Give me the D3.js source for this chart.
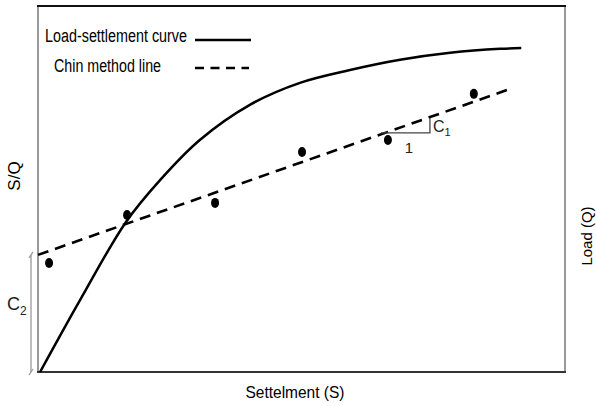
<!DOCTYPE html>
<html><head><meta charset="utf-8">
<script src="https://cdn.jsdelivr.net/npm/d3@7"></script>
<style>body{margin:0;background:#fff}svg{display:block;font-family:"Liberation Sans Narrow","Liberation Sans",Arial,sans-serif}</style>
</head><body><svg id="c" width="596" height="406"></svg>
<script>
// Load-settlement curve (x = settlement, y = load), arbitrary units 0-100
const curveX = [0.4, 8.0, 16.7, 23.2, 30.7, 40.2, 49.7, 59.2, 68.7, 78.2, 87.7, 91.7];
const curveY = [0, 19.7, 41.0, 52.5, 63.4, 73.0, 79.0, 82.5, 85.3, 87.2, 88.3, 88.5];
// S/Q data points
const pointX = [2.1, 16.9, 33.6, 50.1, 66.4, 82.7];
const pointY = [29.8, 42.9, 46.2, 60.1, 63.4, 76.0];
// Chin method line endpoints
const chinX = [0, 90.1];
const chinY = [32.0, 77.6];
const legendLabels = ["Load-settlement curve", "Chin method line"];

const svg = d3.select("#c");
const L = 38, R = 565, T = 6, B = 372;
const x = d3.scaleLinear().domain([0, 100]).range([L, R]);
const y = d3.scaleLinear().domain([0, 100]).range([B, T]);

// frame
svg.append("rect").attr("x", L).attr("y", T).attr("width", R - L).attr("height", B - T)
  .attr("fill", "none").attr("stroke", "#999").attr("stroke-width", 2);
svg.append("line").attr("x1", L - 1).attr("x2", R + 1).attr("y1", T).attr("y2", T).attr("stroke", "#111").attr("stroke-width", 2);
svg.append("line").attr("x1", L - 1).attr("x2", R + 1).attr("y1", B).attr("y2", B).attr("stroke", "#333").attr("stroke-width", 2);

// curve
const curveData = curveX.map((d, i) => [d, curveY[i]]);
svg.append("path").datum(curveData)
  .attr("d", d3.line().x(d => x(d[0])).y(d => y(d[1])).curve(d3.curveCatmullRom))
  .attr("fill", "none").attr("stroke", "#000").attr("stroke-width", 2.5);

// chin line
svg.append("line").attr("x1", x(chinX[0])).attr("y1", y(chinY[0])).attr("x2", x(chinX[1])).attr("y2", y(chinY[1]))
  .attr("stroke", "#000").attr("stroke-width", 2.6).attr("stroke-dasharray", "11,7");

// points
svg.selectAll("ellipse.pt").data(pointX.map((d, i) => [d, pointY[i]])).enter().append("ellipse")
  .attr("cx", d => x(d[0])).attr("cy", d => y(d[1])).attr("rx", 4).attr("ry", 5).attr("fill", "#000");

// slope triangle near 5th point
const tx0 = x(pointX[4]) - 7, tx1 = tx0 + 49;
const ty = y(pointY[4]) - 7;
svg.append("path").attr("d", `M${tx0},${ty}H${tx1}V${ty - 15}`).attr("fill", "none").attr("stroke", "#444").attr("stroke-width", 1.3);
svg.append("text").attr("x", tx0 + 28).attr("y", ty + 20).attr("font-size", 15).attr("fill", "#222").attr("text-anchor", "middle").text("1");
const c1 = svg.append("text").attr("x", tx1 + 3).attr("y", ty - 1).attr("font-size", 16).attr("fill", "#222");
c1.append("tspan").text("C");
c1.append("tspan").attr("font-size", 11).attr("dy", 4).text("1");

// C2 bracket
const bx = 31;
svg.append("line").attr("x1", bx).attr("x2", bx).attr("y1", y(chinY[0])).attr("y2", B).attr("stroke", "#999").attr("stroke-width", 1.3);
svg.append("line").attr("x1", bx - 2).attr("x2", bx + 2).attr("y1", y(chinY[0]) + 3).attr("y2", y(chinY[0]) - 3).attr("stroke", "#999").attr("stroke-width", 1.3);
svg.append("line").attr("x1", bx - 2).attr("x2", bx + 2).attr("y1", B + 3).attr("y2", B - 3).attr("stroke", "#999").attr("stroke-width", 1.3);
const c2 = svg.append("text").attr("x", 7).attr("y", 310).attr("font-size", 18).attr("fill", "#222");
c2.append("tspan").text("C");
c2.append("tspan").attr("font-size", 12).attr("dy", 5).text("2");

// legend
svg.append("text").attr("x", 45).attr("y", 42).attr("font-size", 18).attr("textLength", 142).attr("lengthAdjust", "spacingAndGlyphs").text(legendLabels[0]);
svg.append("line").attr("x1", 195).attr("x2", 251).attr("y1", 40).attr("y2", 40).attr("stroke", "#000").attr("stroke-width", 2.5);
svg.append("text").attr("x", 54).attr("y", 72).attr("font-size", 18).attr("textLength", 107).attr("lengthAdjust", "spacingAndGlyphs").text(legendLabels[1]);
svg.append("line").attr("x1", 195).attr("x2", 249).attr("y1", 68).attr("y2", 68).attr("stroke", "#000").attr("stroke-width", 2.5).attr("stroke-dasharray", "9,6.5");

// axis titles
svg.append("text").attr("x", 295).attr("y", 398).attr("font-size", 17).attr("text-anchor", "middle").attr("textLength", 99).attr("lengthAdjust", "spacingAndGlyphs").text("Settelment (S)");
svg.append("text").attr("transform", "translate(20,176) rotate(-90)").attr("font-size", 17).attr("text-anchor", "middle").text("S/Q");
svg.append("text").attr("transform", "translate(592,236) rotate(-90)").attr("font-size", 15).attr("text-anchor", "middle").text("Load (Q)");
</script></body></html>
